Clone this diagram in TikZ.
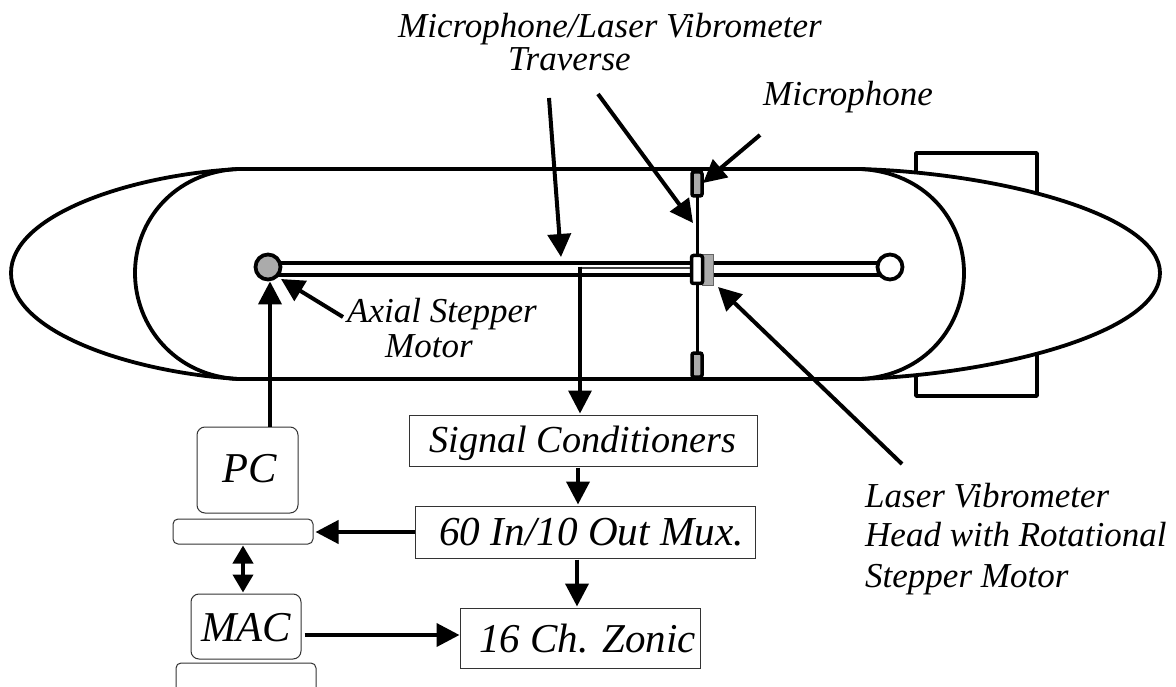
\documentclass[tikz,border=0pt]{standalone}
\usepackage{fontspec}
\setmainfont{Liberation Serif}
\usetikzlibrary{arrows.meta}
\newcommand{\boxtext}[2]{\raisebox{-#1}[0pt][0pt]{#2}}
\tikzset{
	hull/.style={line width=3.8pt},
	arrow/.style={line width=4pt,-{Triangle[length=23pt,width=23pt]}},
	smalllabel/.style={anchor=base west,inner sep=0pt,font=\fontsize{35}{38}\selectfont\itshape},
	boxlabel/.style={draw=black!80,line width=1pt,inner sep=0pt},
	computer/.style={draw=black!80,line width=1pt,rounded corners=8pt,inner sep=0pt,font=\fontsize{42.5}{48}\selectfont\itshape},
	computerbase/.style={draw=black!80,line width=1pt,rounded corners=5pt,inner sep=0pt},
	sensor/.style={draw,line width=3.5pt,fill=black!33,rounded corners=2pt,minimum width=10pt,minimum height=24pt,inner sep=0pt}
}
\begin{document}
\begin{tikzpicture}[x=1pt,y=-1pt]
	\useasboundingbox (0,0) rectangle (1176,687);

	% draw the two side boxes behind the hull
	\draw[hull,line join=round] (916,153) rectangle (1037,396);

	% draw the hull with its two noses
	\draw[hull,fill=white] (238,169) -- (860,169) .. controls (1000,173) and (1160,215) .. (1160,273) .. controls (1160,332) and (1000,374) .. (860,379) -- (238,379) .. controls (130,372) and (11,332) .. (11,273) .. controls (11,215) and (130,175) .. (238,169) -- cycle;
	\draw[hull] (238,169) .. controls (175,172) and (135,220) .. (135,273) .. controls (135,326) and (175,376) .. (238,379);
	\draw[hull] (860,169) .. controls (925,172) and (964,220) .. (964,273) .. controls (964,326) and (925,376) .. (860,379);

	% draw the traverse rails and the end circles
	\draw[hull] (268,263) -- (890,263);
	\draw[hull] (268,275) -- (890,275);
	\node[circle,draw,line width=3.8pt,fill=black!33,minimum size=25pt,inner sep=0pt] (stepper) at (268,267) {};
	\node[circle,draw,line width=3.8pt,fill=white,minimum size=25pt,inner sep=0pt] (endstop) at (890,267) {};

	% draw the microphone arm
	\draw[line width=3pt] (697,184) -- (697,365);
	\node[sensor] (mictop) at (697,184) {};
	\node[sensor] (micbottom) at (697,365) {};

	% draw the laser head on the traverse
	\node[draw=black!60,line width=1pt,fill=black!33,minimum width=11pt,minimum height=31pt,inner sep=0pt] (laserdrive) at (708,270) {};
	\node[draw,line width=3.5pt,fill=white,rounded corners=2pt,minimum width=11pt,minimum height=28pt,inner sep=0pt] (laserhead) at (697,269.5) {};

	% draw the boxes
	\node[boxlabel,minimum width=348pt,minimum height=51pt,font=\fontsize{38.2}{46}\selectfont\itshape] (conditioners) at (583,440.5) {\boxtext{11.5pt}{Signal Conditioners}};
	\node[boxlabel,minimum width=340pt,minimum height=52pt,font=\fontsize{41.2}{46}\selectfont\itshape] (mux) at (585,532) {\hspace{13pt}\boxtext{13pt}{60 In/10 Out Mux.}};
	\node[boxlabel,minimum width=240pt,minimum height=60pt,font=\fontsize{41}{46}\selectfont\itshape] (zonic) at (580,638) {\hspace{15pt}\boxtext{14pt}{16 Ch. Zonic}};
	\node[computer,minimum width=101pt,minimum height=86pt] (pc) at (247.5,470) {\hspace{4pt}\boxtext{12pt}{PC}};
	\node[computerbase,minimum width=140pt,minimum height=25pt] (pcbase) at (243,531.5) {};
	\node[computer,minimum width=110pt,minimum height=65pt] (mac) at (246,626.5) {\boxtext{14.5pt}{MAC}};
	\node[computerbase,minimum width=140pt,minimum height=50pt] (macbase) at (246,688) {};

	% draw the labels
	\node[smalllabel] (traversetop) at (398,38) {Microphone/Laser Vibrometer};
	\node[smalllabel] (traversebottom) at (508,71) {Traverse};
	\node[smalllabel] (microphone) at (763,106) {Microphone};
	\node[smalllabel] (axialtop) at (347,323) {Axial Stepper};
	\node[smalllabel] (axialbottom) at (385,357) {Motor};
	\node[smalllabel] (lasertop) at (865,507) {Laser Vibrometer};
	\node[smalllabel] (lasermiddle) at (865,546) {Head with Rotational};
	\node[smalllabel] (laserbottom) at (865,587) {Stepper Motor};

	% draw the pointers from the labels
	\coordinate (railstart) at (549,98);
	\coordinate (railtip) at (561,257);
	\coordinate (armstart) at (598,94);
	\coordinate (armtip) at (693,223);
	\coordinate (micstart) at (760,135);
	\coordinate (mictip) at (703,183);
	\coordinate (laserstart) at (902,464);
	\coordinate (lasertip) at (718,287);
	\coordinate (axialstart) at (343,317);
	\coordinate (axialtip) at (281,279);
	\draw[arrow] (railstart) -- (railtip);
	\draw[arrow] (armstart) -- (armtip);
	\draw[arrow] (micstart) -- (mictip);
	\draw[arrow] (laserstart) -- (lasertip);
	\draw[arrow] (axialstart) -- (axialtip);

	% draw the signal path
	\coordinate (wirecorner) at (580,268);
	\draw[line width=2.6pt,black!75] (laserhead.west |- wirecorner) -- (wirecorner);
	\draw[arrow,line width=3.4pt] ([yshift=1.3pt]wirecorner) -- ([yshift=1pt]wirecorner |- conditioners.north);
	\draw[arrow] ([xshift=-5pt,yshift=-1pt]conditioners.south) -- ([xshift=-5pt,yshift=1pt]conditioners.south |- mux.north);
	\draw[arrow] ([xshift=-8pt,yshift=-1pt]mux.south) -- ([xshift=-8pt,yshift=1pt]mux.south |- zonic.north);
	\draw[arrow] (mux.west) -- ([xshift=2pt]pcbase.east |- mux.west);
	\draw[arrow] ([xshift=3pt,yshift=-8.5pt]mac.east) -- ([yshift=-8.5pt]mac.east -| zonic.west);
	\draw[arrow] ([xshift=22.5pt]pc.north) -- ([xshift=22.5pt]pc.north |- stepper.south);
	\draw[line width=4pt,{Triangle[length=18pt,width=20pt]}-{Triangle[length=18pt,width=20pt]}] ([yshift=-1pt]pcbase.south) -- ([yshift=1pt]pcbase.south |- mac.north);
\end{tikzpicture}
\end{document}
